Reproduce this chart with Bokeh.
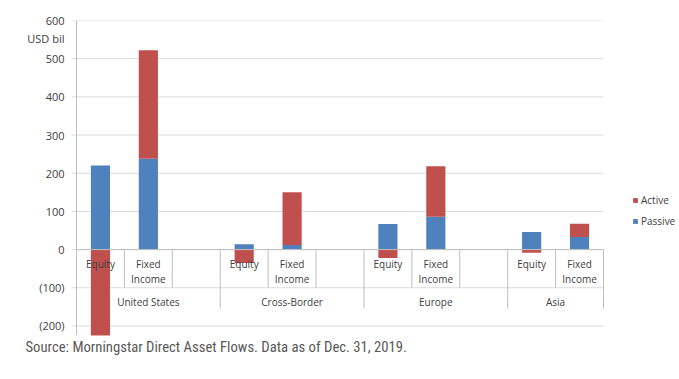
from bokeh.plotting import figure
from bokeh.models import Range1d, FixedTicker, Legend, LegendItem, ColumnDataSource, Title
from bokeh.core.properties import value
from bokeh.embed import file_html
from bokeh.resources import INLINE

# ---- data ----
groups = ["United States", "Cross-Border", "Europe", "Asia"]
slots_per_group = [3, 3, 3, 2]          # Excel layout: blank third slot except Asia
asset_classes = ["Equity", "Fixed Income"]
passive = [220, 238, 14, 12, 67, 86, 46, 33]
active = [-245, 284, -35, 138, -22, 132, -8, 35]
y_ticks = [-200, -100, 0, 100, 200, 300, 400, 500, 600]
y_tick_labels = ["(200)", "(100)", "0", "100", "200", "300", "400", "500", "600"]
series = ["Active", "Passive"]
colors = {"Active": "#C0504D", "Passive": "#4F81BD"}
y_unit = "USD bil"
y_unit_pos = 552
source_note = "Source: Morningstar Direct Asset Flows. Data as of Dec. 31, 2019."

FONT = "Open Sans"
TXT = "#404040"
GRID = "#D9D9D9"
BOX = "#BFBFBF"

n_slots = sum(slots_per_group)
y0, y1 = -225, 600
frame_h = 315
px = (y1 - y0) / frame_h          # data units per pixel (vertical)
slot_px = 527 / n_slots           # pixels per category slot
tick_len = 5                      # gridlines poke out left of the value axis like Excel ticks
legend_room = 76                  # pixels right of the plot area for the legend

p = figure(width=679, height=379, output_backend="svg", toolbar_location=None,
           x_range=Range1d(-tick_len / slot_px, n_slots + legend_room / slot_px), y_range=Range1d(y0, y1),
           min_border_left=71, min_border_right=0, min_border_top=20, min_border_bottom=44)
p.outline_line_color = None
p.xaxis.visible = False
p.grid.visible = False
p.yaxis.ticker = FixedTicker(ticks=y_ticks + [y_unit_pos])
overrides = {t: l for t, l in zip(y_ticks, y_tick_labels)}
overrides[y_unit_pos] = y_unit
p.yaxis.major_label_overrides = overrides
p.yaxis.axis_line_color = None
p.yaxis.major_tick_line_color = None
p.yaxis.major_tick_out = 0
p.yaxis.major_tick_in = 0
p.yaxis.minor_tick_line_color = None
p.yaxis.minor_tick_out = 0
p.yaxis.major_label_text_font = FONT
p.yaxis.major_label_text_font_size = "11px"
p.yaxis.major_label_text_color = TXT
p.yaxis.major_label_standoff = 7

# horizontal gridlines (span only the plot area, plus Excel-style tick stubs)
p.segment(x0=[-tick_len / slot_px] * len(y_ticks), y0=y_ticks, x1=[n_slots] * len(y_ticks), y1=y_ticks,
          line_color=GRID, line_width=1)

# slot centres
xs, grp_centers, slot_bounds, grp_bounds = [], [], [], [0]
start = 0
for g, n in zip(groups, slots_per_group):
    for c in range(len(asset_classes)):
        xs.append(start + c + 0.5)
    for k in range(1, n):
        slot_bounds.append(start + k)
    grp_centers.append(start + n / 2)
    start += n
    grp_bounds.append(start)

act_bottom = [pv if a >= 0 else 0 for pv, a in zip(passive, active)]
act_top = [pv + a if a >= 0 else a for pv, a in zip(passive, active)]

src = ColumnDataSource(dict(x=xs, pb=[0] * len(xs), pt=passive, ab=act_bottom, at=act_top))
r_p = p.vbar(x="x", bottom="pb", top="pt", width=0.4, source=src, fill_color=colors["Passive"], line_color=None)
r_a = p.vbar(x="x", bottom="ab", top="at", width=0.4, source=src, fill_color=colors["Active"], line_color=None)

# value axis line and category axis boxes
p.segment(x0=[0], y0=[y0], x1=[0], y1=[y1], line_color=BOX, line_width=1)
p.segment(x0=[0], y0=[0], x1=[n_slots], y1=[0], line_color=BOX, line_width=1)
p.segment(x0=slot_bounds, y0=[0] * len(slot_bounds), x1=slot_bounds, y1=[-38 * px] * len(slot_bounds),
          line_color=BOX, line_width=1)
p.segment(x0=grp_bounds[1:], y0=[0] * (len(grp_bounds) - 1), x1=grp_bounds[1:],
          y1=[-59 * px] * (len(grp_bounds) - 1), line_color=BOX, line_width=1)

# category labels
eq_x = [x for i, x in enumerate(xs) if i % 2 == 0]
fi_x = [x for i, x in enumerate(xs) if i % 2 == 1]
kw = dict(text_font=value(FONT), text_font_size="10px", text_color=TXT, text_align="center", text_baseline="middle")
p.text(x=eq_x, y=[-14 * px] * len(eq_x), text=[asset_classes[0]] * len(eq_x), **kw)
fi_words = asset_classes[1].split(" ")
p.text(x=fi_x, y=[-14.5 * px] * len(fi_x), text=[fi_words[0]] * len(fi_x), **kw)
p.text(x=fi_x, y=[-29 * px] * len(fi_x), text=[fi_words[1]] * len(fi_x), **kw)
p.text(x=grp_centers, y=[-52 * px] * len(grp_centers), text=groups, **kw)

# source note below the chart
p.add_layout(Title(text=source_note, align="left", offset=-46, standoff=0,
                   text_font="'Roboto Condensed', 'DejaVu Sans Condensed', Roboto", text_font_size="14.7px",
                   text_font_style="normal", text_color="#595959"), "below")

legend = Legend(items=[LegendItem(label=series[0], renderers=[r_a]), LegendItem(label=series[1], renderers=[r_p])],
                location=(561, 107), orientation="vertical", padding=0, margin=0, spacing=7,
                glyph_width=6, glyph_height=6, label_height=12, label_text_font=FONT, label_text_font_size="10px",
                label_text_color=TXT, label_standoff=3, border_line_color=None, background_fill_alpha=0)
p.add_layout(legend, "center")

open("out.html", "w").write(file_html(p, INLINE))
